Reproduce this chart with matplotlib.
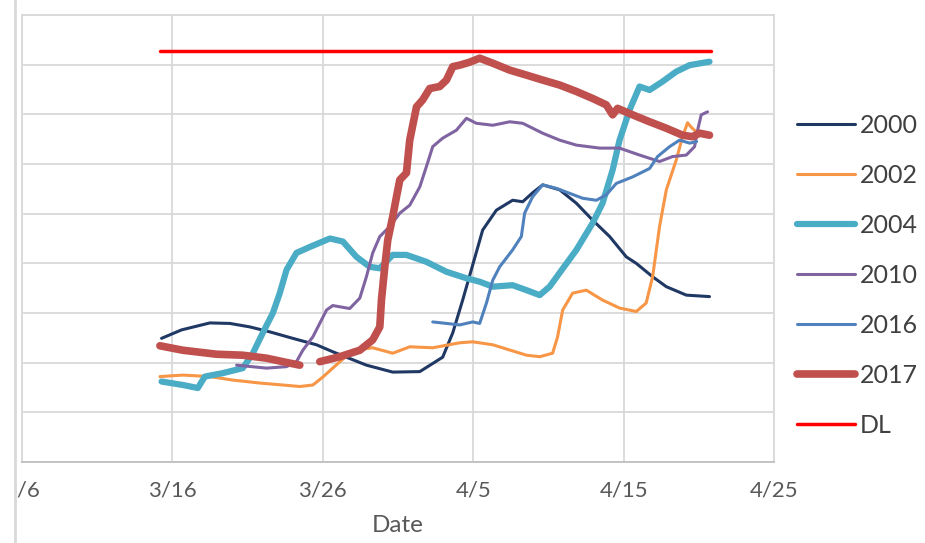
import numpy as np
import matplotlib
matplotlib.use("Agg")
import matplotlib.pyplot as plt
from matplotlib.lines import Line2D
from matplotlib.transforms import Bbox, TransformedBbox

plt.rcParams['font.family'] = ['Lato', 'DejaVu Sans']

# x = days after 3/6
tick_days = [0, 10, 20, 30, 40, 50]
tick_labels = ["3/6", "3/16", "3/26", "4/5", "4/15", "4/25"]

d2000 = [9.28, 10.61, 12.49, 13.82, 15.15, 16.48, 18.0, 19.58, 20.66, 22.9, 24.65, 26.45, 27.97, 28.64, 29.3, 29.97,
         30.63, 31.54, 32.62, 33.29, 33.95, 34.62, 35.75, 36.86, 37.94, 39.07, 40.18, 40.84, 41.93, 42.84, 44.17, 45.71]
v2000 = [24.9, 26.6, 28.0, 27.9, 27.2, 26.2, 24.9, 23.6, 22.2, 19.5, 18.1, 18.2, 21.1, 26.0, 32.6, 39.7,
         46.7, 50.7, 52.7, 52.4, 54.2, 55.8, 54.8, 52.1, 48.7, 45.4, 41.3, 40.0, 37.3, 35.3, 33.6, 33.3]

d2002 = [9.17, 10.7, 12.49, 14.0, 15.8, 17.34, 18.47, 19.34, 20.0, 20.66, 22.0, 23.32, 24.65, 25.78, 27.31, 29.1,
         29.97, 31.3, 33.55, 34.42, 35.28, 35.61, 35.95, 36.61, 37.52, 38.6, 39.73, 40.84, 41.5, 41.93, 42.39,
         42.84, 43.5, 43.92, 44.25, 44.5, 44.85]
v2002 = [17.2, 17.5, 17.2, 16.5, 15.9, 15.5, 15.2, 15.5, 17.1, 18.9, 22.5, 23.0, 21.9, 23.2, 23.0, 24.0,
         24.2, 23.6, 21.5, 21.2, 21.9, 25.2, 30.6, 34.0, 34.6, 32.6, 31.0, 30.3, 32.0, 37.3, 47.4,
         54.8, 60.8, 65.5, 68.3, 67.4, 66.4]

d2004 = [9.28, 10.7, 11.69, 12.16, 13.36, 14.68, 15.35, 16.01, 16.68, 17.14, 17.59, 18.25, 19.14, 20.47, 21.33,
         22.24, 23.12, 23.79, 24.65, 25.56, 26.89, 28.22, 29.55, 30.43, 31.3, 32.62, 33.54, 34.42, 35.08, 35.75,
         36.86, 37.94, 38.6, 39.27, 39.73, 40.4, 41.06, 41.73, 42.59, 43.5, 44.39, 45.71]
v2004 = [16.2, 15.5, 14.9, 17.2, 17.9, 18.9, 21.9, 26.0, 30.0, 34.0, 38.7, 42.1, 43.3, 45.0, 44.4,
         41.3, 39.3, 39.0, 41.7, 41.7, 40.3, 38.3, 37.0, 36.3, 35.3, 35.6, 34.6, 33.6, 35.3, 38.1,
         42.7, 48.1, 52.1, 58.8, 64.8, 70.9, 75.6, 74.9, 76.6, 78.6, 79.9, 80.6]

d2010 = [14.27, 16.26, 17.59, 18.25, 18.67, 19.34, 20.25, 20.66, 21.79, 22.46, 22.9, 23.32, 23.79, 24.45, 25.12,
         25.78, 26.45, 26.89, 27.31, 27.97, 28.88, 29.55, 30.21, 31.3, 32.43, 33.29, 34.62, 35.75, 36.86, 38.41,
         39.73, 41.06, 42.39, 43.26, 44.17, 44.72, 44.92, 45.16, 45.58]
v2010 = [19.5, 18.9, 19.2, 20.2, 22.5, 25.2, 30.6, 31.5, 30.9, 33.0, 37.3, 42.1, 45.4, 47.4, 50.1,
         51.7, 55.4, 59.5, 63.5, 65.2, 66.8, 69.2, 68.2, 67.8, 68.5, 68.2, 66.2, 64.8, 63.8, 63.2,
         63.2, 61.8, 60.5, 61.5, 61.8, 63.5, 66.8, 69.9, 70.5]

d2016 = [27.31, 28.22, 29.1, 29.97, 30.43, 30.88, 31.3, 31.76, 32.62, 33.2, 33.42, 33.95, 34.62, 35.53, 36.41,
         37.28, 38.19, 38.85, 39.52, 40.6, 41.73, 42.26, 43.06, 43.72, 44.39, 44.85]
v2016 = [28.2, 27.9, 27.6, 28.2, 27.9, 32.0, 36.6, 39.3, 42.7, 45.4, 50.1, 53.4, 55.8, 55.1, 54.1,
         53.1, 52.7, 53.8, 56.1, 57.4, 59.1, 61.5, 63.5, 64.8, 64.2, 64.5]

d2017 = [9.17, 10.7, 12.94, 14.68, 16.26, 17.34, 18.47, 19.1,
         19.8, 21.13, 22.46, 23.32, 23.79, 23.9, 24.12, 24.32, 24.65, 24.9, 25.12, 25.56, 25.78, 26.23, 26.64,
         27.11, 27.77, 28.22, 28.64, 29.1, 29.77, 30.43, 31.3, 32.43, 33.54, 34.62, 35.75, 36.86, 37.94, 38.85,
         39.27, 39.6, 40.6, 41.73, 42.84, 43.92, 44.58, 45.05, 45.71]
v2017 = [23.4, 22.5, 21.7, 21.5, 20.9, 20.2, 19.5, np.nan,
         20.2, 21.2, 22.5, 24.6, 27.2, 32.6, 39.3, 44.7, 49.4, 53.4, 56.8, 58.2, 64.8, 71.5, 72.9,
         75.2, 75.6, 76.9, 79.6, 79.9, 80.5, 81.3, 80.3, 78.9, 77.9, 76.9, 75.9, 74.6, 73.2, 71.9,
         69.9, 71.2, 69.9, 68.5, 67.2, 65.8, 65.5, 66.2, 65.8]

dDL = [9.2, 45.8]
vDL = [82.7, 82.7]

series = [
    ("2000", d2000, v2000, "#203864", 2.2),
    ("2002", d2002, v2002, "#F79646", 2.2),
    ("2004", d2004, v2004, "#4BACC6", 4.5),
    ("2010", d2010, v2010, "#8064A2", 2.2),
    ("2016", d2016, v2016, "#4F81BD", 2.2),
    ("2017", d2017, v2017, "#C0504D", 5.5),
    ("DL", dDL, vDL, "#FF0000", 2.5),
]

fig = plt.figure(figsize=(9.25, 5.43), dpi=100)
ax = fig.add_axes([22/925, (543-462)/543, (774-22)/925, (462-15)/543])

for name, d, v, c, lw in series:
    ax.plot(d, v, color=c, lw=lw, label=name, solid_capstyle='round', solid_joinstyle='round')

ax.set_xlim(0, 50)
ax.set_ylim(0, 90)
ax.set_xticks(tick_days)
ax.set_xticklabels(tick_labels, fontsize=16, color="#595959")
ax.set_yticks(np.arange(0, 91, 10))
ax.set_yticklabels([])
ax.tick_params(axis='both', length=0)
ax.tick_params(axis='x', pad=13)
ax.grid(True, color="#D9D9D9", lw=1.3)
ax.set_axisbelow(True)
for s in ax.spines.values():
    s.set_color("#D9D9D9")
    s.set_linewidth(1.3)
ax.spines['bottom'].set_color("#BFBFBF")
ax.set_xlabel("Date", fontsize=17.5, color="#595959", labelpad=11)

# the chart area border clips the first tick label (only "/6" visible)
clip = TransformedBbox(Bbox([[16/925, 0], [1, 1]]), fig.transFigure)
first = ax.xaxis.get_major_ticks()[0].label1
first.set_clip_box(clip)
first.set_clip_on(True)

handles, labels = ax.get_legend_handles_labels()
fig.legend(handles, labels, loc='center left', bbox_to_anchor=(797/925, (543-275.5)/543),
           frameon=False, fontsize=18, borderpad=0, borderaxespad=0,
           handlelength=2.3, handletextpad=0.2, labelspacing=1.08, labelcolor="#404040")

fig.add_artist(Line2D([15/925, 15/925], [0, 1], color="#D9D9D9", lw=2, transform=fig.transFigure))

fig.savefig("out.png", dpi=100)
